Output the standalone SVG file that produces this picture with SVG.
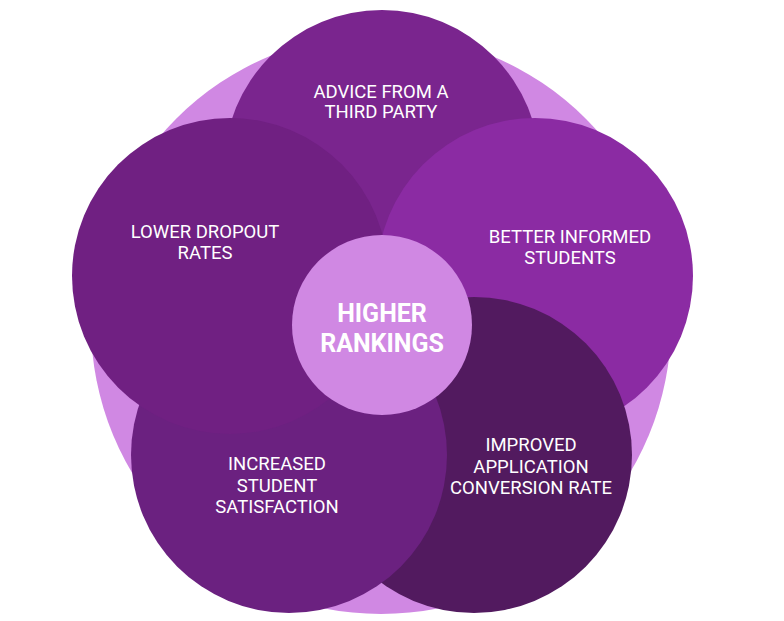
<svg xmlns="http://www.w3.org/2000/svg" width="784" height="621" viewBox="0 0 784 621">
<style>
.lbl{font-family:Roboto,"Liberation Sans",sans-serif;font-size:18.5px;fill:#ffffff;text-anchor:middle}
.ctr{font-family:Roboto,"Liberation Sans",sans-serif;font-size:25px;font-weight:bold;fill:#ffffff;text-anchor:middle}
</style>
<rect width="784" height="621" fill="#ffffff"/>
<circle id="background" cx="381" cy="324" r="290" fill="#d088e3"/>
<g id="connectors"/>
<g id="node-advice">
<circle cx="382" cy="168" r="158" fill="#7a258e"/>
<text class="lbl" x="381" y="98">ADVICE FROM A</text>
<text class="lbl" x="381" y="118">THIRD PARTY</text>
</g>
<g id="node-better">
<circle cx="535" cy="276" r="158" fill="#8b2ba3"/>
<text class="lbl" x="570" y="243">BETTER INFORMED</text>
<text class="lbl" x="570" y="264">STUDENTS</text>
</g>
<g id="node-improved">
<circle cx="474" cy="455" r="158" fill="#521a5f"/>
<text class="lbl" x="531" y="451">IMPROVED</text>
<text class="lbl" x="531" y="473">APPLICATION</text>
<text class="lbl" x="531" y="494">CONVERSION RATE</text>
</g>
<g id="node-increased">
<circle cx="289" cy="455" r="158" fill="#6b2180"/>
<text class="lbl" x="277" y="470">INCREASED</text>
<text class="lbl" x="277" y="492">STUDENT</text>
<text class="lbl" x="277" y="513">SATISFACTION</text>
</g>
<g id="node-lower">
<circle cx="230" cy="276" r="158" fill="#702082"/>
<text class="lbl" x="205" y="238">LOWER DROPOUT</text>
<text class="lbl" x="205" y="259">RATES</text>
</g>
<g id="node-center">
<circle cx="382" cy="325" r="90" fill="#d088e3"/>
<text class="ctr" x="382" y="322">HIGHER</text>
<text class="ctr" x="382" y="352">RANKINGS</text>
</g>
</svg>
